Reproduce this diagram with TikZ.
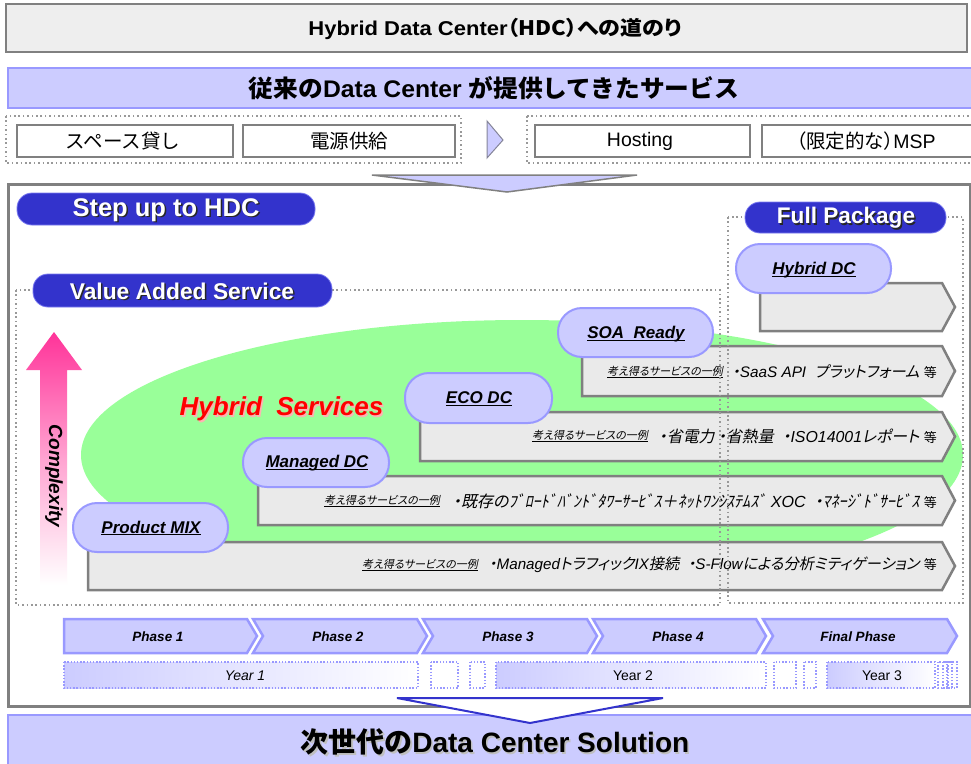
\documentclass[tikz,border=0pt]{standalone}
\usepackage{graphicx}
\usepackage{fontspec}
\setmainfont{Liberation Sans}
\newfontfamily\jp[RawFeature=+palt]{Noto Sans CJK JP}
\newfontfamily\jpf{Noto Sans CJK JP}
\newfontfamily\jpi[RawFeature=+palt,FakeSlant=0.2]{Noto Sans CJK JP}
\newcommand\fsz[1]{\fontsize{#1}{#1}\selectfont}
\newcommand\myul[2][1.1pt]{\setbox0=\hbox{#2}\rlap{\rule[-2.2pt]{\wd0}{#1}}\box0}
\newcommand\J[1]{{\jpi #1}}
\newcommand\hsc[2]{\scalebox{#1}[1]{#2}}
\definecolor{lav}{HTML}{CCCCFF}
\definecolor{lavb}{HTML}{9999FF}
\definecolor{dblue}{HTML}{3333CC}
\definecolor{gb}{HTML}{808080}
\definecolor{gfill}{HTML}{EAEAEA}
\definecolor{grn}{HTML}{99FF99}
\definecolor{pinkc}{HTML}{FF3399}
\definecolor{dotg}{HTML}{999999}
\definecolor{titlef}{HTML}{EEEEEE}
\tikzset{
  graybox/.style={draw=gb, line width=2.5pt, fill=gfill},
  whitebox/.style={draw=gb, line width=2pt, fill=white},
  dotreg/.style={draw=dotg, line width=1.6pt, dash pattern=on 1.6pt off 2.8pt},
  lavpill/.style={draw=lavb, line width=2pt, fill=lav, rounded corners=24pt},
  bluepill/.style={fill=dblue, draw=lavb!70!dblue, line width=0.8pt, rounded corners=15pt},
  chev/.style={draw=lavb, line width=2.5pt, fill=lav},
  yearbox/.style={draw=lavb, line width=1.4pt, dash pattern=on 1.4pt off 1.8pt},
  lbl/.style={inner sep=0pt, font=\fsz{17}\bfseries\itshape},
  sub/.style={inner sep=0pt, font=\jpi\fsz{11}},
  row/.style={inner sep=0pt, anchor=east, font=\fsz{15.3}\itshape},
  ph/.style={inner sep=0pt, font=\fsz{13.5}\bfseries\itshape},
  yr/.style={inner sep=0pt, font=\fsz{14}},
  bx/.style={inner sep=0pt, font=\fsz{19.5}},
  wt/.style={inner sep=0pt, text=white},
  sh/.style={inner sep=0pt, text=black!85},
}
\begin{document}
\begin{tikzpicture}[x=1pt,y=-1pt]
\useasboundingbox (0,0) rectangle (971,763);
% title
\draw[draw=gb, line width=2.5pt, fill=titlef] (6,4) rectangle (967,52);
\node[inner sep=0pt] (title) at (495,29) {\fsz{20}\bfseries\hsc{1.1}{Hybrid Data Center{\jp（HDC）への道のり}}};
% old services bar
\draw[draw=lavb, line width=2pt, fill=lav] (8,68) rectangle (976,108);
\node[inner sep=0pt] (oldbar) at (494,88) {\fsz{24}\bfseries\hsc{1.03}{{\jpf 従来の}Data Center {\jpf が提供してきたサービス}}};
% dotted groups
\draw[dotreg] (6,116) rectangle (461,163);
\draw[dotreg] (527,116) rectangle (978,163);
\draw[whitebox] (17,125) rectangle (233,157);
\draw[whitebox] (243,125) rectangle (455,157);
\draw[whitebox] (535,125) rectangle (750,157);
\draw[whitebox] (762,125) rectangle (978,157);
\node[bx] (b1) at (123,141) {\jpf スペース貸し};
\node[bx] (b2) at (349,141) {\jpf 電源供給};
\node[bx] (b3) at (640,141) {Hosting};
\node[bx] (b4) at (866,141) {{\jp（限定的な）}MSP};
\draw[draw=gb!80!lavb, line width=1pt, fill=lav] (487,121) -- (503,140) -- (487,158) -- cycle;
% main box
\draw[draw=gb, line width=3pt, fill=white] (8,184) rectangle (970,706);
% top down arrow
\draw[draw=gb, line width=1.5pt, fill=lav] (372,175) -- (637,175) -- (507,192) -- cycle;
% green ellipse
\fill[grn] (522,455) ellipse [x radius=441, y radius=135];
% complexity arrow
\shade[top color=pinkc, bottom color=white, middle color=pinkc!45!white]
  (40,585) -- (40,370) -- (26,370) -- (54,332) -- (82,370) -- (67,370) -- (67,585) -- cycle;
\node[inner sep=0pt, rotate=-90, font=\fsz{19}\bfseries\itshape] (cx) at (54,476) {Complexity};
% gray arrow boxes
\draw[graybox] (760,283) -- (942,283) -- (955,307) -- (942,331) -- (760,331) -- cycle;
\draw[graybox] (582,346) -- (942,346) -- (955,371) -- (942,396) -- (582,396) -- cycle;
\draw[graybox] (420,412) -- (942,412) -- (955,436.5) -- (942,461) -- (420,461) -- cycle;
\draw[graybox] (258,476) -- (942,476) -- (955,500.5) -- (942,525) -- (258,525) -- cycle;
\draw[graybox] (88,542) -- (942,542) -- (955,566) -- (942,590) -- (88,590) -- cycle;
% row texts
\node[sub] (s1) at (665,372) {\myul[0.7pt]{考え得るサービスの一例}};
\node[row] (r1) at (937,372) {\J{・}SaaS API\ \ \J{プラットフォーム} {\jp\upshape\fsz{13}等}};
\node[sub] (s2) at (590,436) {\myul[0.7pt]{考え得るサービスの一例}};
\node[row, font=\fsz{15.9}\itshape] (r2) at (937,436) {\J{・省電力\ ・省熱量}\ \ \J{・}ISO14001\J{レポート} {\jp\upshape\fsz{13}等}};
\node[sub] (s3) at (382,501) {\myul[0.7pt]{考え得るサービスの一例}};
\node[row, font=\fsz{16.1}\itshape] (r3) at (937,501) {\J{・既存のﾌﾞﾛｰﾄﾞﾊﾞﾝﾄﾞﾀﾜｰｻｰﾋﾞｽ＋ﾈｯﾄﾜﾝｼｽﾃﾑｽﾞ} XOC\ \ \J{・ﾏﾈｰｼﾞﾄﾞｻｰﾋﾞｽ}\ {\jp\upshape\fsz{13}等}};
\node[sub] (s4) at (420,565) {\myul[0.7pt]{考え得るサービスの一例}};
\node[row, font=\fsz{15.2}\itshape] (r4) at (937,565) {\J{・}Managed\J{トラフィック}IX\J{接続}\ \ \J{・}S-Flow\J{による分析ミティゲーション} {\jp\upshape\fsz{13}等}};
% lavender pills
\draw[lavpill] (736,244) rectangle (891,293);
\node[lbl] (p1) at (814,270) {\myul{Hybrid DC}};
\draw[lavpill] (558,308) rectangle (713,357);
\node[lbl] (p2) at (636,334) {\myul{SOA\ \ Ready}};
\draw[lavpill] (405,373) rectangle (552,423);
\node[lbl] (p3) at (479,399) {\myul{ECO DC}};
\draw[lavpill] (243,438) rectangle (389,487);
\node[lbl] (p4) at (317,463) {\myul{Managed DC}};
\draw[lavpill] (73,503) rectangle (228,552);
\node[lbl] (p5) at (151,528) {\myul{Product MIX}};
% dotted regions
\draw[dotreg] (16,290) rectangle (720,605);
\draw[dotreg] (728,217) rectangle (963,603);
% blue pills
\draw[bluepill] (17,193) rectangle (315,225);
\node[sh, font=\fsz{25.5}\bfseries] at (167.5,211.5) {Step up to HDC};
\node[wt, font=\fsz{25.5}\bfseries] (step) at (166,210) {Step up to HDC};
\draw[bluepill] (33,274) rectangle (332,307);
\node[sh, font=\fsz{22.8}\bfseries] at (183.5,292.5) {Value Added Service};
\node[wt, font=\fsz{22.8}\bfseries] (vas) at (182,291) {Value Added Service};
\draw[bluepill] (745,202) rectangle (946,233);
\node[sh, font=\fsz{22.6}\bfseries] at (847.5,219.5) {Full Package};
\node[wt, font=\fsz{22.6}\bfseries] (fp) at (846,218) {Full Package};
% hybrid services
\node[inner sep=0pt, text=red!30!white, font=\fsz{26}\bfseries\itshape] at (283,410.5) {Hybrid\ \ Services};
\node[inner sep=0pt, text=red, font=\fsz{26}\bfseries\itshape] (hs) at (281.5,409) {Hybrid\ \ Services};
% phases
\draw[chev] (64,619) -- (247,619) -- (257,636) -- (247,653) -- (64,653) -- cycle;
\draw[chev] (253,619) -- (417,619) -- (427,636) -- (417,653) -- (253,653) -- (263,636) -- cycle;
\draw[chev] (423,619) -- (587,619) -- (597,636) -- (587,653) -- (423,653) -- (433,636) -- cycle;
\draw[chev] (593,619) -- (756,619) -- (766,636) -- (756,653) -- (593,653) -- (603,636) -- cycle;
\draw[chev] (763,619) -- (947,619) -- (957,636) -- (947,653) -- (763,653) -- (773,636) -- cycle;
\node[ph] (ph1) at (158,637) {Phase 1};
\node[ph] (ph2) at (338,637) {Phase 2};
\node[ph] (ph3) at (508,637) {Phase 3};
\node[ph] (ph4) at (678,637) {Phase 4};
\node[ph] (ph5) at (858,637) {Final Phase};
% years
\shade[left color=lav, right color=white] (64,662) rectangle (418,688);
\draw[yearbox] (64,662) rectangle (418,688);
\node[yr, font=\fsz{14}\itshape] (y1) at (245,676) {Year 1};
\draw[yearbox] (431,662) rectangle (458,688);
\draw[yearbox] (470,662) rectangle (485,688);
\shade[left color=lav, right color=white] (496,662) rectangle (766,688);
\draw[yearbox] (496,662) rectangle (766,688);
\node[yr] (y2) at (633,676) {Year 2};
\draw[yearbox] (774,662) rectangle (796,688);
\draw[yearbox] (804,662) rectangle (816,688);
\shade[left color=lav, right color=white] (827,662) rectangle (935,688);
\draw[yearbox] (827,662) rectangle (935,688);
\node[yr] (y3) at (882,676) {Year 3};
\draw[yearbox] (938,662) rectangle (947,688);
\draw[yearbox] (943,662) rectangle (952,688);
\draw[yearbox] (948,662) rectangle (957,688);
% bottom bar
\draw[draw=lavb, line width=2pt, fill=lav] (8,715) rectangle (976,775);
\draw[draw=dblue, line width=2pt, fill=white] (397,698) -- (663,698) -- (530,723) -- cycle;
\node[inner sep=0pt, text=black!25, font=\fsz{28}\bfseries] at (496.5,743.5) {{\jp 次世代の}Data Center Solution};
\node[inner sep=0pt, font=\fsz{28}\bfseries] (sol) at (495,742) {{\jp 次世代の}Data Center Solution};
\end{tikzpicture}
\end{document}
